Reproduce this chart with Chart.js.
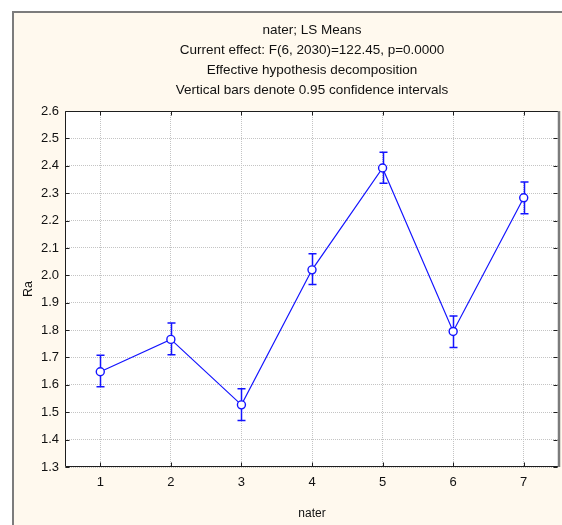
<!DOCTYPE html>
<html>
<head>
<meta charset="utf-8">
<script src="https://cdn.jsdelivr.net/npm/chart.js@4.4.0/dist/chart.umd.min.js"></script>
<style>
  html, body { margin: 0; padding: 0; background: #ffffff; }
  #wrap { width: 562px; height: 525px; }
</style>
</head>
<body>
<div id="wrap"><canvas id="lsMeans" width="562" height="525"></canvas></div>
<script>
// values
const categories = [1, 2, 3, 4, 5, 6, 7];
const means = [1.648, 1.766, 1.527, 2.020, 2.392, 1.795, 2.283];
const ciLow = [1.593, 1.710, 1.470, 1.966, 2.336, 1.736, 2.225];
const ciHigh = [1.708, 1.826, 1.586, 2.079, 2.449, 1.851, 2.341];
const yTicks = [1.3, 1.4, 1.5, 1.6, 1.7, 1.8, 1.9, 2.0, 2.1, 2.2, 2.3, 2.4, 2.5, 2.6];
const titleLines = [
  'nater; LS Means',
  'Current effect: F(6, 2030)=122.45, p=0.0000',
  'Effective hypothesis decomposition',
  'Vertical bars denote 0.95 confidence intervals'
];

const BLUE = '#1414ff';
const FONT = "'Liberation Sans', Arial, sans-serif";
const NARROW = "'Liberation Sans Narrow', 'Arial Narrow', 'Liberation Sans', sans-serif";

// cream panel behind everything, white plot area
const panelPlugin = {
  id: 'panel',
  beforeDraw(chart) {
    const ctx = chart.ctx;
    const a = chart.chartArea;
    ctx.save();
    ctx.fillStyle = '#ffffff';
    ctx.fillRect(0, 0, chart.width, chart.height);
    ctx.fillStyle = '#fff9ee';
    ctx.fillRect(12, 11, chart.width - 12, chart.height - 11);
    ctx.strokeStyle = '#7c7c7c';
    ctx.lineWidth = 2;
    ctx.beginPath();
    ctx.moveTo(13, chart.height + 2);
    ctx.lineTo(13, 12);
    ctx.lineTo(chart.width + 2, 12);
    ctx.stroke();
    ctx.fillStyle = '#ffffff';
    ctx.fillRect(a.left, a.top, a.right - a.left, a.bottom - a.top);
    ctx.restore();
  }
};

// confidence interval whiskers
const errorBarPlugin = {
  id: 'errorBars',
  beforeDatasetsDraw(chart) {
    const ctx = chart.ctx;
    const xs = chart.scales.x, ys = chart.scales.y;
    ctx.save();
    ctx.strokeStyle = BLUE;
    ctx.lineWidth = 1.5;
    categories.forEach((c, i) => {
      const x = Math.round(xs.getPixelForValue(c)) + 0.5;
      const y1 = ys.getPixelForValue(ciHigh[i]);
      const y2 = ys.getPixelForValue(ciLow[i]);
      ctx.beginPath();
      ctx.moveTo(x, y1); ctx.lineTo(x, y2);
      ctx.moveTo(x - 4, y1); ctx.lineTo(x + 4, y1);
      ctx.moveTo(x - 4, y2); ctx.lineTo(x + 4, y2);
      ctx.stroke();
    });
    ctx.restore();
  }
};

// frame around the plot with inward ticks on all sides
const framePlugin = {
  id: 'frame',
  afterDraw(chart) {
    const ctx = chart.ctx;
    const a = chart.chartArea;
    const xs = chart.scales.x, ys = chart.scales.y;
    const L = Math.round(a.left) + 0.5, R = Math.round(a.right) - 0.5;
    const T = Math.round(a.top) + 0.5, B = Math.round(a.bottom) - 0.5;
    ctx.save();
    ctx.lineWidth = 1;
    ctx.strokeStyle = '#1e1e1e';
    ctx.beginPath();
    ctx.moveTo(L, T); ctx.lineTo(R, T);
    ctx.moveTo(L, T); ctx.lineTo(L, B); ctx.lineTo(R, B);
    categories.forEach(c => {
      const x = Math.round(xs.getPixelForValue(c)) + 0.5;
      ctx.moveTo(x, B); ctx.lineTo(x, B - 4);
      ctx.moveTo(x, T); ctx.lineTo(x, T + 4);
    });
    yTicks.forEach(v => {
      const y = Math.round(ys.getPixelForValue(v)) + 0.5;
      ctx.moveTo(L, y); ctx.lineTo(L + 4, y);
      ctx.moveTo(R - 1, y); ctx.lineTo(R - 5, y);
    });
    ctx.stroke();
    ctx.strokeStyle = '#7c7c7c';
    ctx.lineWidth = 2.5;
    ctx.beginPath();
    ctx.moveTo(R + 0.5, T - 0.5); ctx.lineTo(R + 0.5, B + 0.5);
    ctx.stroke();
    ctx.restore();
  }
};

const ctx = document.getElementById('lsMeans').getContext('2d');
const lsChart = new Chart(ctx, {
  type: 'line',
  data: {
    datasets: [{
      data: categories.map((c, i) => ({ x: c, y: means[i] })),
      borderColor: BLUE,
      borderWidth: 1.2,
      pointRadius: 4,
      pointBorderWidth: 1.4,
      pointBackgroundColor: '#ffffff',
      pointBorderColor: BLUE,
      tension: 0,
      fill: false
    }]
  },
  options: {
    responsive: false,
    animation: false,
    devicePixelRatio: 1,
    layout: { autoPadding: false, padding: { top: 0, left: 0, right: 3, bottom: 0 } },
    plugins: {
      legend: { display: false },
      tooltip: { enabled: false },
      title: {
        display: true,
        fullSize: false,
        text: titleLines,
        color: '#111111',
        font: { family: FONT, size: 13.5, weight: 'normal', lineHeight: '20px' },
        padding: { top: 20, bottom: 11 }
      }
    },
    scales: {
      x: {
        type: 'linear',
        min: 0.5,
        max: 7.5,
        afterBuildTicks: s => { s.ticks = categories.map(v => ({ value: v })); },
        afterFit: s => { s.height = 58; },
        ticks: {
          color: '#111111',
          font: { family: NARROW, size: 13 },
          padding: 8,
          callback: v => String(v)
        },
        grid: { color: '#c4c4c4', lineWidth: 1, drawTicks: false },
        border: { display: false, dash: [1, 1] },
        title: {
          display: true,
          text: 'nater',
          color: '#111111',
          font: { family: FONT, size: 12 },
          padding: { top: 5 }
        }
      },
      y: {
        min: 1.3,
        max: 2.6,
        afterBuildTicks: s => { s.ticks = yTicks.map(v => ({ value: v })); },
        afterFit: s => { s.width = 65; },
        ticks: {
          color: '#111111',
          font: { family: NARROW, size: 13 },
          padding: 6,
          callback: v => Number(v).toFixed(1)
        },
        grid: { color: '#c4c4c4', lineWidth: 1, drawTicks: false },
        border: { display: false, dash: [1, 1] },
        title: {
          display: true,
          text: 'Ra',
          color: '#111111',
          font: { family: FONT, size: 12.5 },
          padding: { top: 21 }
        }
      }
    }
  },
  plugins: [panelPlugin, errorBarPlugin, framePlugin]
});
</script>
</body>
</html>
